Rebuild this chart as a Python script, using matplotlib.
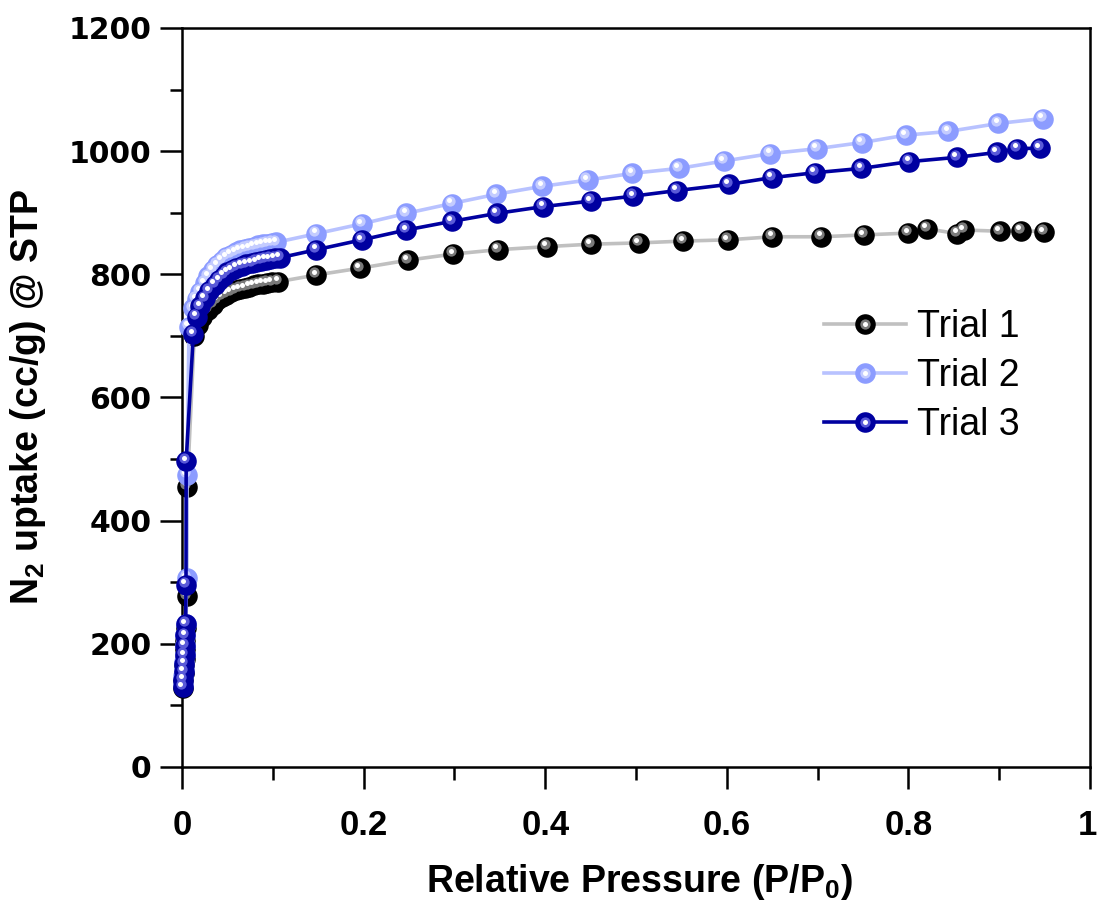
import matplotlib
matplotlib.use('Agg')
import matplotlib.pyplot as plt
from matplotlib.transforms import ScaledTranslation
from matplotlib.legend_handler import HandlerTuple
from matplotlib.ticker import MultipleLocator, FixedLocator

plt.rcParams['font.family'] = 'Liberation Sans'
plt.rcParams['mathtext.fontset'] = 'custom'
plt.rcParams['mathtext.rm'] = 'Liberation Sans:bold'
plt.rcParams['mathtext.it'] = 'Liberation Sans:bold'
plt.rcParams['mathtext.default'] = 'rm'

# values
trial1_x = [0.0012, 0.0016, 0.002, 0.0024, 0.0028, 0.0032, 0.0036, 0.004, 0.0052, 0.0058,
            0.0135, 0.018, 0.022, 0.029, 0.034, 0.039, 0.044, 0.049, 0.054, 0.059,
            0.064, 0.069, 0.074, 0.079, 0.084, 0.089, 0.094, 0.099, 0.106,
            0.148, 0.196, 0.249, 0.299, 0.348, 0.402, 0.4505, 0.503, 0.552, 0.601,
            0.650, 0.704, 0.751, 0.80, 0.8205, 0.854, 0.861, 0.901, 0.924, 0.949]
trial1_y = [128, 140, 152, 164, 176, 190, 205, 225, 277, 455,
            700, 718, 730, 742, 751, 758, 763, 767, 771, 774,
            776, 778, 780, 782, 784, 785, 786, 787, 788,
            799, 810, 823, 833, 840, 845, 849, 851, 854, 856,
            861, 861, 864, 867, 874, 866, 872, 870, 871, 869]

trial2_x = [0.0012, 0.0016, 0.002, 0.0024, 0.0028, 0.0032, 0.0036, 0.004, 0.0052, 0.0056,
            0.0077, 0.0125, 0.016, 0.02, 0.025, 0.029, 0.034, 0.039, 0.044, 0.049,
            0.054, 0.059, 0.064, 0.069, 0.074, 0.079, 0.084, 0.089, 0.094, 0.099, 0.104,
            0.148, 0.198, 0.247, 0.297, 0.346, 0.397, 0.4466, 0.496, 0.547, 0.597,
            0.648, 0.699, 0.749, 0.797, 0.844, 0.899, 0.948]
trial2_y = [135, 147, 159, 171, 184, 198, 214, 232, 307, 474,
            715, 745, 760, 772, 786, 797, 807, 815, 822, 828,
            832, 836, 839, 841, 843, 845, 847, 849, 850, 851, 852,
            866, 882, 899, 915, 930, 943, 953, 964, 972, 984,
            996, 1004, 1014, 1026, 1032, 1045, 1053]

trial3_x = [0.0012, 0.0016, 0.002, 0.0024, 0.0028, 0.0032, 0.0036, 0.004, 0.0044, 0.0046,
            0.0125, 0.016, 0.02, 0.025, 0.03, 0.036, 0.041, 0.046, 0.05, 0.055,
            0.06, 0.066, 0.071, 0.077, 0.082, 0.087, 0.092, 0.097, 0.102, 0.108,
            0.148, 0.198, 0.247, 0.297, 0.347, 0.398, 0.4505, 0.497, 0.545, 0.602,
            0.6495, 0.697, 0.748, 0.801, 0.8535, 0.8976, 0.920, 0.945]
trial3_y = [130, 142, 155, 168, 182, 197, 214, 232, 296, 497,
            703, 731, 748, 761, 773, 783, 791, 798, 803, 807,
            811, 814, 816, 818, 820, 822, 824, 825, 826, 827,
            840, 856, 872, 886, 899, 910, 919, 927, 936, 946,
            957, 965, 972, 983, 990, 998, 1004, 1005]

labels = ['Trial 1', 'Trial 2', 'Trial 3']
body_colors = ['#000000', '#8c9cff', '#0000a0']
line_colors = ['#c0c0c0', '#b8c2ff', '#0000a0']
shine_colors = ['#7a7a7a', '#c4ccff', '#5a5ad8']

x_ticks = [0, 0.2, 0.4, 0.6, 0.8, 1.0]
x_ticklabels = ['0', '0.2', '0.4', '0.6', '0.8', '1']
y_ticks = [0, 200, 400, 600, 800, 1000, 1200]

fig = plt.figure(figsize=(10.97, 9.08), dpi=100)
ax = fig.add_axes([182 / 1097, 1 - 767 / 908, 908 / 1097, 739 / 908])

off1 = ScaledTranslation(-1.5 / 72, 1.9 / 72, fig.dpi_scale_trans)
off2 = ScaledTranslation(-1.9 / 72, 2.4 / 72, fig.dpi_scale_trans)

handles = []
series = [(trial1_x, trial1_y), (trial2_x, trial2_y), (trial3_x, trial3_y)]
for i, (xs, ys) in enumerate(series):
    z = 3 + i
    main, = ax.plot(xs, ys, '-o', color=line_colors[i], lw=2.6, ms=14.8,
                    mfc=body_colors[i], mec='none', zorder=z, clip_on=False)
    mid, = ax.plot(xs, ys, 'o', ms=7.4, color=shine_colors[i], mec='none',
                   zorder=z + 0.1, transform=ax.transData + off1, clip_on=False)
    top, = ax.plot(xs, ys, 'o', ms=3.6, color='white', mec='none',
                   zorder=z + 0.2, transform=ax.transData + off2, clip_on=False)
    handles.append((main, mid, top))

ax.set_xlim(0, 1)
ax.set_ylim(0, 1200)
ax.xaxis.set_major_locator(FixedLocator(x_ticks))
ax.set_xticklabels(x_ticklabels)
ax.xaxis.set_minor_locator(MultipleLocator(0.1))
ax.yaxis.set_major_locator(FixedLocator(y_ticks))
ax.yaxis.set_minor_locator(MultipleLocator(100))

for s in ax.spines.values():
    s.set_linewidth(1.8)
ax.tick_params(which='major', direction='out', length=16, width=1.8)
ax.tick_params(which='minor', direction='out', length=9, width=1.8)
ax.tick_params(axis='x', which='major', pad=14)
ax.tick_params(axis='y', which='major', pad=6)

for t in ax.get_xticklabels():
    t.set_fontfamily('Liberation Sans')
    t.set_fontweight('bold')
    t.set_fontsize(25)
for t in ax.get_yticklabels():
    t.set_fontfamily('DejaVu Sans')
    t.set_fontweight('bold')
    t.set_fontsize(21.5)
# keep the "1" at the right end inside the canvas
last = ax.get_xticklabels()[-1]
last.set_horizontalalignment('right')
last.set_transform(last.get_transform() + ScaledTranslation(5 / 72, 0, fig.dpi_scale_trans))

ax.set_xlabel('Relative Pressure (P/P$_0$)', fontsize=27, fontweight='bold')
ax.set_ylabel('N$_2$ uptake (cc/g) @ STP', fontsize=27, fontweight='bold')
ax.xaxis.set_label_coords(0.504, -0.128)
ax.yaxis.set_label_coords(-0.148, 0.5)

leg = ax.legend(handles, labels, handler_map={tuple: HandlerTuple(ndivide=1)},
                loc='center left', bbox_to_anchor=(0.707, 0.529), frameon=False,
                fontsize=27, handlelength=2.2, handletextpad=0.28, labelspacing=0.34,
                borderpad=0, borderaxespad=0)

fig.savefig('out.png', dpi=100)
